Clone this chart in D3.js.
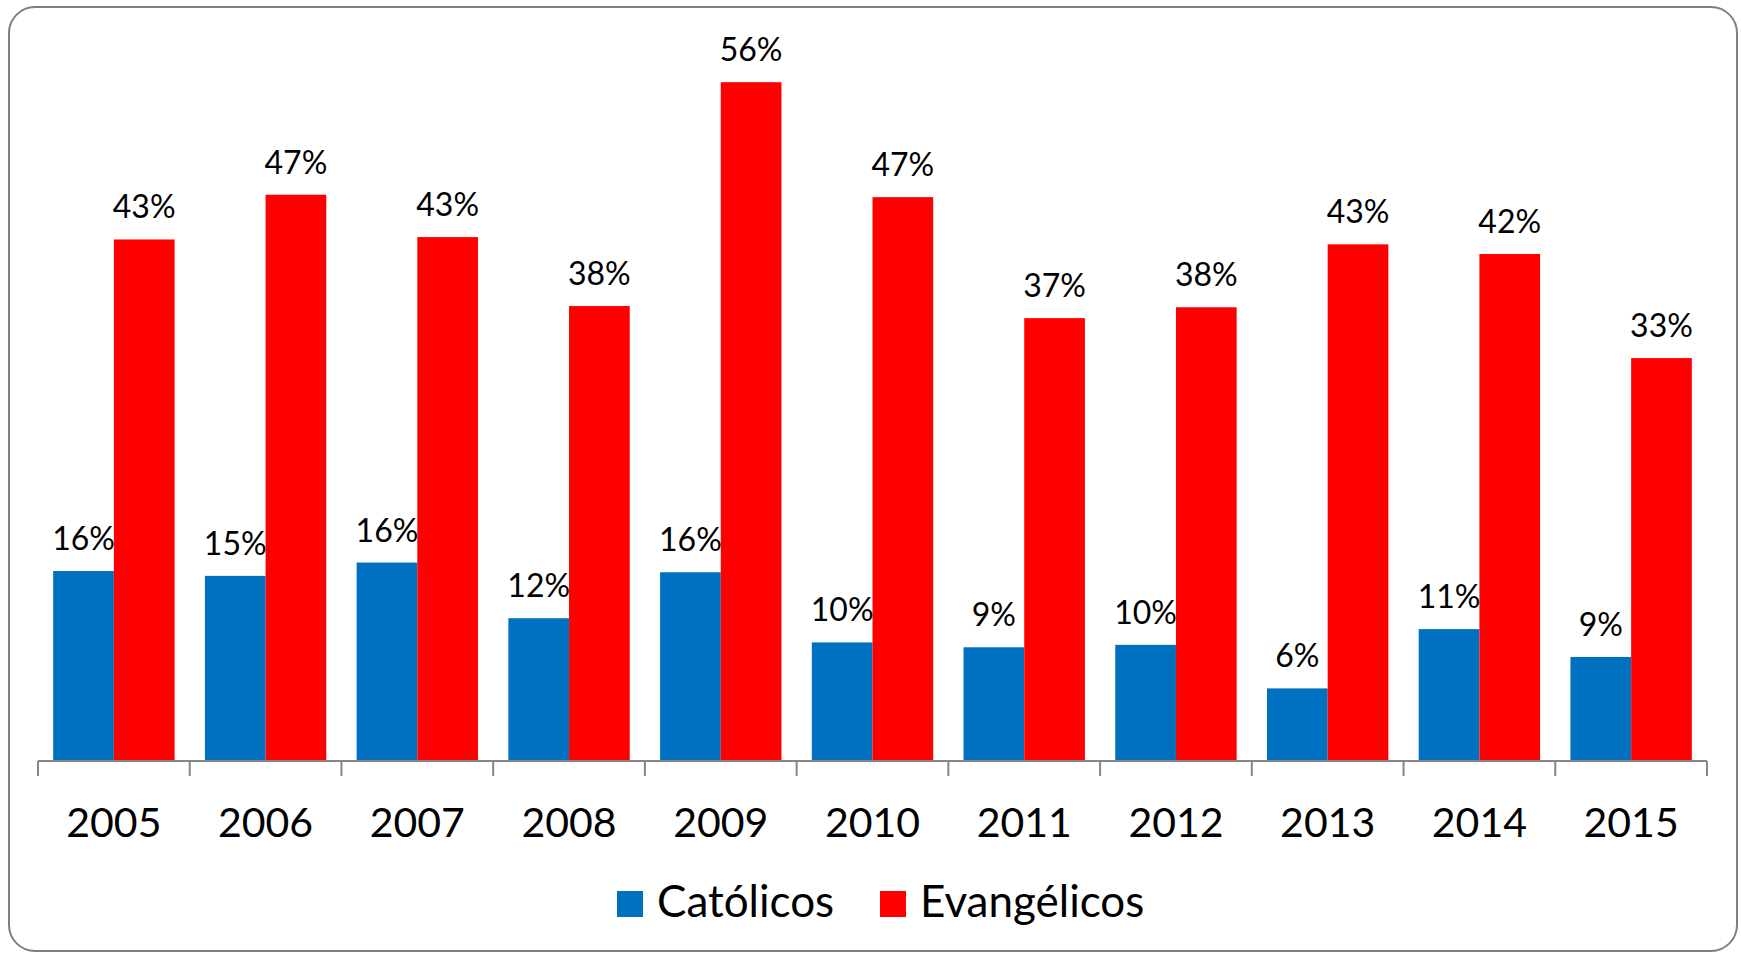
<!DOCTYPE html>
<html>
<head>
<meta charset="utf-8">
<script src="https://cdn.jsdelivr.net/npm/d3@7"></script>
<style>
  body { margin: 0; background: #fff; }
  svg { display: block; font-family: Lato, "Open Sans", sans-serif; }
</style>
</head>
<body>
<svg id="chart" width="1741" height="954"></svg>
<script>
// THE DATA
const years = ["2005", "2006", "2007", "2008", "2009", "2010", "2011", "2012", "2013", "2014", "2015"];
const seriesNames = ["Católicos", "Evangélicos"];
const catolicos = [15.7, 15.3, 16.4, 11.8, 15.6, 9.8, 9.4, 9.6, 6.0, 10.9, 8.6];
const evangelicos = [43.1, 46.8, 43.3, 37.6, 56.1, 46.6, 36.6, 37.5, 42.7, 41.9, 33.3];
const colors = ["#0070C0", "#FF0000"];

// rows for the grouped bars
const rows = years.map((y, i) => ({year: y, values: [catolicos[i], evangelicos[i]]}));

const svg = d3.select("#chart");

// frame round the chart
svg.append("rect")
  .attr("x", 9).attr("y", 7)
  .attr("width", 1728).attr("height", 944)
  .attr("rx", 26).attr("ry", 26)
  .attr("fill", "#fff")
  .attr("stroke", "#7f7f7f")
  .attr("stroke-width", 2);

const left = 38, right = 1707, axisY = 761, plotTop = 35;

const x = d3.scaleBand()
  .domain(years)
  .range([left, right])
  .paddingInner(0.2)
  .paddingOuter(0.1);

const xInner = d3.scaleBand()
  .domain(d3.range(seriesNames.length))
  .range([0, x.bandwidth()]);

const y = d3.scaleLinear()
  .domain([0, 60])
  .range([axisY, plotTop]);

// bars
const groups = svg.append("g")
  .selectAll("g")
  .data(rows)
  .join("g")
  .attr("transform", d => `translate(${x(d.year)},0)`);

groups.selectAll("rect")
  .data(d => d.values)
  .join("rect")
  .attr("x", (d, i) => xInner(i))
  .attr("y", d => y(d))
  .attr("width", xInner.bandwidth())
  .attr("height", d => axisY - y(d))
  .attr("fill", (d, i) => colors[i]);

// value labels
groups.selectAll("text")
  .data(d => d.values)
  .join("text")
  .attr("x", (d, i) => xInner(i) + xInner.bandwidth() / 2)
  .attr("y", d => y(d) - 21)
  .attr("text-anchor", "middle")
  .attr("font-size", 32)
  .attr("fill", "#000")
  .text(d => Math.round(d) + "%");

// x axis with ticks between categories
const axis = svg.append("g");
axis.append("line")
  .attr("x1", left).attr("x2", right)
  .attr("y1", axisY).attr("y2", axisY)
  .attr("stroke", "#868686").attr("stroke-width", 2);

const boundaries = years.map(yr => x(yr) - x.step() * x.paddingInner() / 2)
  .concat([right]);
axis.selectAll(".tick")
  .data(boundaries)
  .join("line")
  .attr("class", "tick")
  .attr("x1", d => d).attr("x2", d => d)
  .attr("y1", axisY).attr("y2", axisY + 15)
  .attr("stroke", "#868686").attr("stroke-width", 2);

axis.selectAll(".year")
  .data(years)
  .join("text")
  .attr("class", "year")
  .attr("x", d => x(d) + x.bandwidth() / 2)
  .attr("y", 837)
  .attr("text-anchor", "middle")
  .attr("font-size", 41)
  .text(d => d);

// legend
const legendX = [617, 880];
const legend = svg.append("g")
  .selectAll("g")
  .data(seriesNames)
  .join("g")
  .attr("transform", (d, i) => `translate(${legendX[i]},891)`);

legend.append("rect")
  .attr("width", 26).attr("height", 26)
  .attr("fill", (d, i) => colors[i]);

legend.append("text")
  .attr("x", 40)
  .attr("y", 26)
  .attr("font-size", 44)
  .text(d => d);
</script>
</body>
</html>
